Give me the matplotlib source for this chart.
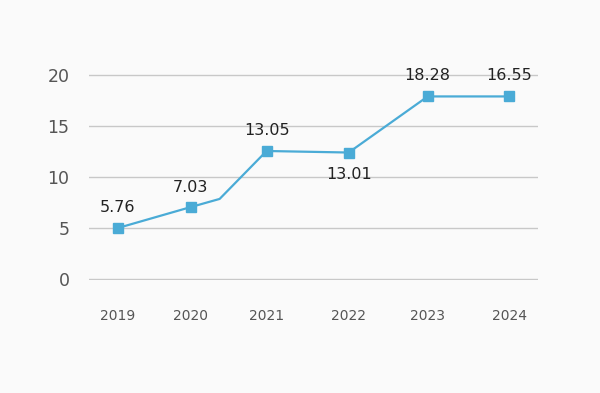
import matplotlib
matplotlib.use('Agg')
import matplotlib.pyplot as plt

years = ['2019', '2020', '2021', '2022', '2023', '2024']
year_pos = [0, 0.93, 1.90, 2.95, 3.96, 5.0]
values = [5.0, 7.05, 12.55, 12.4, 17.9, 17.9]
labels = ['5.76', '7.03', '13.05', '13.01', '18.28', '16.55']
# extra bend in the line between 2020 and 2021
bend_pos = 1.30
bend_val = 7.85

line_x = year_pos[:2] + [bend_pos] + year_pos[2:]
line_y = values[:2] + [bend_val] + values[2:]

fig = plt.figure(figsize=(6, 3.93), dpi=100)
fig.patch.set_facecolor('#fafafa')
ax = fig.add_axes([89 / 600, 1 - 280 / 393, 449 / 600, 206 / 393])
ax.set_facecolor('#fafafa')

ax.plot(line_x, line_y, color='#4aabd6', lw=1.6, zorder=3)
ax.plot(year_pos, values, 's', color='#4aabd6', ms=7, zorder=4)

# labels: 2022 goes below the point
for i, (x, y, t) in enumerate(zip(year_pos, values, labels)):
    off = -22 if i == 3 else 20
    if i >= 4:
        off = 21
    ax.annotate(t, (x, y), xytext=(0, off), textcoords='offset pixels',
                ha='center', va='center', fontsize=11.5, color='#222222')

ax.set_xlim(-0.37, 5.37)
ax.set_ylim(-0.1, 20.1)
ax.set_yticks([0, 5, 10, 15, 20])
ax.set_xticks(year_pos)
ax.set_xticklabels(years)
ax.grid(axis='y', color='#c8c8c8', lw=1)
ax.set_axisbelow(True)
for s in ax.spines.values():
    s.set_visible(False)
ax.tick_params(axis='y', length=0, pad=14, labelsize=12.5, labelcolor='#555555')
ax.tick_params(axis='x', length=0, pad=21, labelsize=10, labelcolor='#555555')

fig.savefig('out.png', dpi=100, facecolor=fig.get_facecolor())
